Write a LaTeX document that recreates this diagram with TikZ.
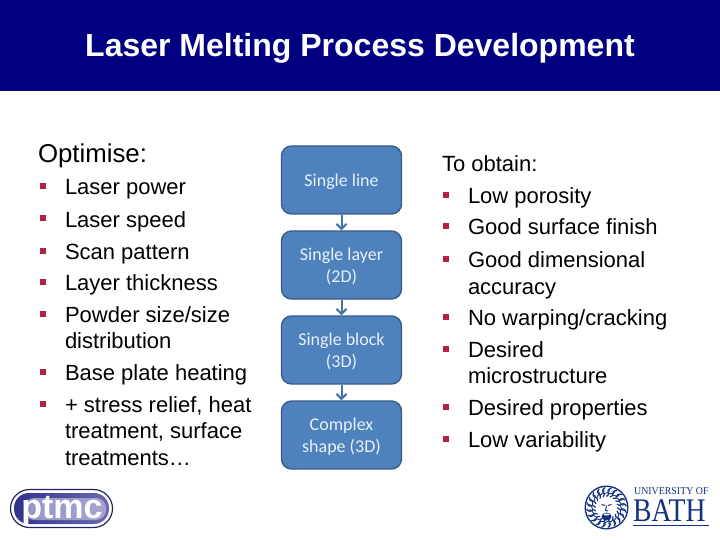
\documentclass[tikz,border=0pt]{standalone}
\usepackage{fontspec}
\setmainfont{Liberation Sans}
\newfontfamily\boxfont{Carlito}
\newfontfamily\bathfont{Liberation Serif}
\usetikzlibrary{arrows.meta,positioning,calc}
\definecolor{navy}{RGB}{0,0,128}
\definecolor{boxfill}{RGB}{79,129,189}
\definecolor{boxline}{RGB}{56,93,138}
\definecolor{boxarrow}{RGB}{68,114,172}
\definecolor{boxtext}{RGB}{232,240,250}
\definecolor{bull}{RGB}{178,34,68}
\definecolor{bathblue}{RGB}{20,50,130}
\definecolor{pillblue}{RGB}{50,50,140}
\definecolor{pilllight}{RGB}{190,190,225}
\tikzset{
  x=1pt,y=-1pt,
  txt/.style={anchor=base west,inner sep=0pt,outer sep=0pt,font=\fontsize{22}{22}\selectfont,text=black},
  flowbox/.style={draw=boxline,line width=1.4pt,fill=boxfill,rounded corners=10pt,minimum width=120pt,minimum height=68pt,inner sep=0pt,align=center,text=boxtext,font=\boxfont\fontsize{18}{22}\selectfont},
  flowarrow/.style={draw=boxarrow,line width=2pt,-{Straight Barb[length=5pt,width=10pt]}},
  bullet/.style={fill=bull,draw=none,minimum size=6pt,inner sep=0pt,outer sep=0pt},
}
\newcommand{\bl}[3]{\node[bullet] (b#1) at (#2,#3-8.5) {};}
\newcommand{\bt}[1]{\raisebox{-2pt}[\height][\depth]{\begin{tabular}{@{}c@{}}#1\end{tabular}}}
\begin{document}
\begin{tikzpicture}
\useasboundingbox (0,0) rectangle (720,540);
\fill[white] (0,0) rectangle (720,540);
\fill[navy] (0,0) rectangle (720,91);
\node[anchor=base,inner sep=0pt,text=white,font=\fontsize{32}{32}\bfseries\selectfont] (title) at (360,57) {Laser Melting Process Development};
% left column
\node[txt,font=\fontsize{25.8}{26}\selectfont] (opt) at (38,163) {Optimise:};
\node[txt] (l1) at (65,195) {Laser power};\bl{l1}{43}{195}
\node[txt] (l2) at (65,227) {Laser speed};\bl{l2}{43}{227}
\node[txt] (l3) at (65,259) {Scan pattern};\bl{l3}{43}{259}
\node[txt] (l4) at (65,290) {Layer thickness};\bl{l4}{43}{290}
\node[txt] (l5) at (65,322) {Powder size/size};\bl{l5}{43}{322}
\node[txt] (l5b) at (65,348) {distribution};
\node[txt] (l6) at (65,380) {Base plate heating};\bl{l6}{43}{380}
\node[txt] (l7) at (65,412) {+ stress relief, heat};\bl{l7}{43}{412}
\node[txt] (l7b) at (65,438) {treatment, surface};
\node[txt] (l7c) at (65,465) {treatments…};
% right column
\node[txt] (r0) at (442,172) {To obtain:};
\node[txt] (r1) at (468,204) {Low porosity};\bl{r1}{446}{204}
\node[txt] (r2) at (468,235) {Good surface finish};\bl{r2}{446}{235}
\node[txt] (r3) at (468,267) {Good dimensional};\bl{r3}{446}{267}
\node[txt] (r3b) at (468,294) {accuracy};
\node[txt] (r4) at (468,325) {No warping/cracking};\bl{r4}{446}{325}
\node[txt] (r5) at (468,357) {Desired};\bl{r5}{446}{357}
\node[txt] (r5b) at (468,383) {microstructure};
\node[txt] (r6) at (468,415) {Desired properties};\bl{r6}{446}{415}
\node[txt] (r7) at (468,447) {Low variability};\bl{r7}{446}{447}
% flow
\node[flowbox] (f1) at (341.5,180) {\bt{Single line}};
\node[flowbox] (f2) at (341.5,265) {\bt{Single layer\\(2D)}};
\node[flowbox] (f3) at (341.5,350) {\bt{Single block\\(3D)}};
\node[flowbox] (f4) at (341.5,435) {\bt{Complex\\shape (3D)}};
\draw[flowarrow] (f1) -- (f2);
\draw[flowarrow] (f2) -- (f3);
\draw[flowarrow] (f3) -- (f4);
% ptmc logo
\draw[pillblue!70!black,line width=1.2pt,fill=white,rounded corners=19pt] (10.5,489.5) rectangle (112.5,527.5);
\shade[left color=pillblue,right color=pillblue!60!pilllight,rounded corners=15pt] (14,493) rectangle (109,524);
\fill[pilllight,opacity=.7,rounded corners=10pt] (24,498) rectangle (106,520);
\node[anchor=base,inner sep=0pt,text=white,font=\fontsize{34}{34}\bfseries\selectfont] (ptmc) at (62,518) {ptmc};
% Bath logo
\coordinate (med) at (606.5,507.5);
\fill[bathblue] (med) circle (22);
\fill[white] (med) circle (20.5);
\foreach \a in {0,18,...,342}{
  \draw[bathblue,line width=1.2pt] ($(med)+(\a:11)$) .. controls ($(med)+(\a+22:15)$) and ($(med)+(\a-10:17)$) .. ($(med)+(\a+14:20)$);
  \draw[bathblue,line width=.9pt] ($(med)+(\a+9:14)$) .. controls ($(med)+(\a+30:16)$) .. ($(med)+(\a+27:19)$);
}
\fill[white] ($(med)+(0,1)$) ellipse (8 and 11);
\draw[bathblue,line width=1pt] ($(med)+(-5,-3)$) -- ($(med)+(-1.5,-2)$) ($(med)+(5,-3)$) -- ($(med)+(1.5,-2)$);
\draw[bathblue,line width=.9pt] ($(med)+(0,-2)$) -- ($(med)+(-1,3)$) -- ($(med)+(1.5,3.5)$);
\fill[bathblue] ($(med)+(0,9)$) ellipse (5 and 4);
\fill[white] ($(med)+(0,7)$) ellipse (3 and 1);
\node[anchor=base west,inner sep=0pt,text=bathblue,font=\bathfont\fontsize{10.5}{10.5}\selectfont] (uni) at (634,494) {\scalebox{.94}[1]{UNIVERSITY OF}};
\node[anchor=base west,inner sep=0pt,text=bathblue,font=\bathfont\fontsize{33}{33}\selectfont] (bath) at (633,521) {\scalebox{.84}[1]{BATH}};
\fill[bathblue] (633,524.5) rectangle (709,526);
\end{tikzpicture}
\end{document}
